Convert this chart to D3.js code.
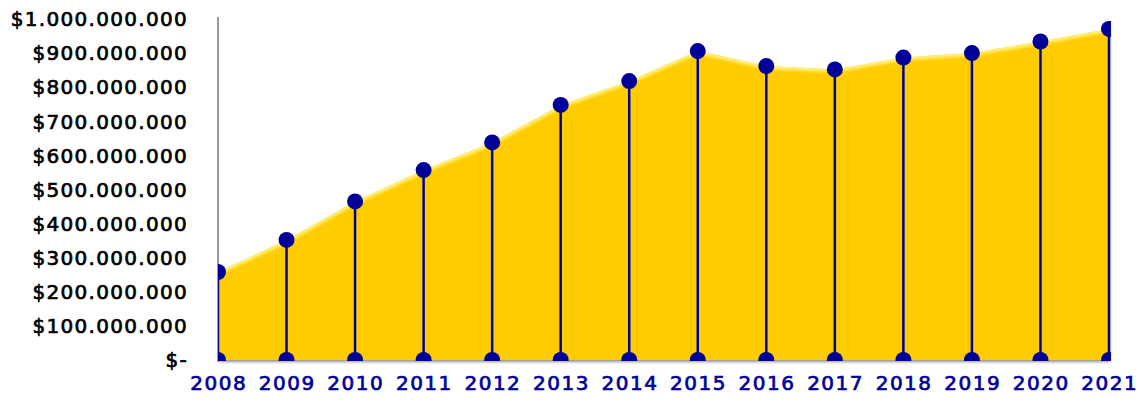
<!DOCTYPE html>
<meta charset="utf-8">
<script src="https://d3js.org/d3.v7.min.js"></script>
<style>
  body { margin: 0; background: #fff; }
  .ylab { font-family: "DejaVu Sans", sans-serif; font-size: 20px; letter-spacing: 1.3px; fill: #000; stroke: #000; stroke-width: 0.7px; }
  .xlab { font-family: "DejaVu Sans", sans-serif; font-size: 20px; letter-spacing: 1.5px; fill: #000099; stroke: #000099; stroke-width: 0.7px; }
</style>
<div id="chart"></div>
<script>
  var years = ["2008", "2009", "2010", "2011", "2012", "2013", "2014",
               "2015", "2016", "2017", "2018", "2019", "2020", "2021"];
  var values = [258e6, 352e6, 465e6, 557e6, 638e6, 748e6, 818e6,
                906e6, 862e6, 852e6, 887e6, 900e6, 934e6, 971e6];
  var yTicks = [0, 1e8, 2e8, 3e8, 4e8, 5e8, 6e8, 7e8, 8e8, 9e8, 1e9];
  var yTickLabels = ["$-", "$100.000.000", "$200.000.000", "$300.000.000", "$400.000.000",
                     "$500.000.000", "$600.000.000", "$700.000.000", "$800.000.000",
                     "$900.000.000", "$1.000.000.000"];

  var width = 1139, height = 406;
  var plotLeft = 218, plotRight = 1109, plotTop = 19, plotBottom = 360;

  var data = years.map((yr, i) => ({year: yr, value: values[i]}));

  var x = d3.scalePoint().domain(years).range([plotLeft, plotRight]);
  var y = d3.scaleLinear().domain([0, 1e9]).range([plotBottom, plotTop]);

  var svg = d3.select("#chart").append("svg")
    .attr("width", width)
    .attr("height", height);

  var defs = svg.append("defs");
  defs.append("clipPath").attr("id", "plotclip")
    .append("rect").attr("x", plotLeft).attr("y", 0)
    .attr("width", plotRight - plotLeft + 2).attr("height", plotBottom + 1);

  var shadow = defs.append("filter").attr("id", "shadow")
    .attr("x", "-5%").attr("y", "-5%").attr("width", "110%").attr("height", "115%");
  shadow.append("feDropShadow").attr("dx", 1).attr("dy", 2)
    .attr("stdDeviation", 1.5).attr("flood-color", "#777").attr("flood-opacity", 0.8);

  var blur = defs.append("filter").attr("id", "blur");
  blur.append("feGaussianBlur").attr("stdDeviation", 1.5);

  var area = d3.area()
    .x(d => x(d.year))
    .y0(y(0))
    .y1(d => y(d.value));

  var line = d3.line()
    .x(d => x(d.year))
    .y(d => y(d.value));

  // area with bevel look
  svg.append("path")
    .datum(data)
    .attr("d", area)
    .attr("fill", "#ffcc00")
    .attr("filter", "url(#shadow)");

  defs.append("clipPath").attr("id", "areaclip")
    .append("path").datum(data).attr("d", area);

  var bevel = svg.append("g").attr("clip-path", "url(#areaclip)");
  bevel.append("path")
    .datum(data)
    .attr("d", line)
    .attr("fill", "none")
    .attr("stroke", "#fff27a")
    .attr("stroke-width", 6)
    .attr("filter", "url(#blur)");
  bevel.append("line")
    .attr("x1", plotRight).attr("x2", plotRight)
    .attr("y1", plotTop).attr("y2", plotBottom)
    .attr("stroke", "#d9a000")
    .attr("stroke-width", 7)
    .attr("filter", "url(#blur)");
  bevel.append("line")
    .attr("x1", plotLeft).attr("x2", plotRight)
    .attr("y1", plotBottom).attr("y2", plotBottom)
    .attr("stroke", "#d9a000")
    .attr("stroke-width", 6)
    .attr("filter", "url(#blur)");

  // axis lines
  svg.append("line")
    .attr("x1", plotLeft).attr("x2", plotLeft)
    .attr("y1", 17).attr("y2", plotBottom + 2)
    .attr("stroke", "#9a9a9a").attr("stroke-width", 2);
  svg.append("line")
    .attr("x1", plotLeft).attr("x2", plotRight + 2)
    .attr("y1", plotBottom + 1.5).attr("y2", plotBottom + 1.5)
    .attr("stroke", "#a0a0a0").attr("stroke-width", 2)
    .attr("filter", "url(#shadow)");

  // drop lines and markers
  var marks = svg.append("g").attr("clip-path", "url(#plotclip)");
  marks.selectAll("line.stem")
    .data(data)
    .enter()
    .append("line")
    .attr("class", "stem")
    .attr("x1", d => x(d.year)).attr("x2", d => x(d.year))
    .attr("y1", d => y(d.value)).attr("y2", y(0))
    .attr("stroke", "#000099").attr("stroke-width", 2.5);

  marks.selectAll("circle.base")
    .data(data)
    .enter()
    .append("circle")
    .attr("class", "base")
    .attr("cx", d => x(d.year)).attr("cy", y(0))
    .attr("r", 8)
    .attr("fill", "#000099");

  marks.selectAll("circle.top")
    .data(data)
    .enter()
    .append("circle")
    .attr("class", "top")
    .attr("cx", d => x(d.year)).attr("cy", d => y(d.value))
    .attr("r", 8)
    .attr("fill", "#000099");

  // y labels
  svg.selectAll("text.ylab")
    .data(yTicks)
    .enter()
    .append("text")
    .attr("class", "ylab")
    .attr("x", 188)
    .attr("y", d => y(d))
    .attr("dy", "0.36em")
    .attr("text-anchor", "end")
    .text((d, i) => yTickLabels[i]);

  // x labels
  svg.selectAll("text.xlab")
    .data(years)
    .enter()
    .append("text")
    .attr("class", "xlab")
    .attr("x", d => x(d) + 0.75)
    .attr("y", 390)
    .attr("text-anchor", "middle")
    .text(d => d);
</script>
